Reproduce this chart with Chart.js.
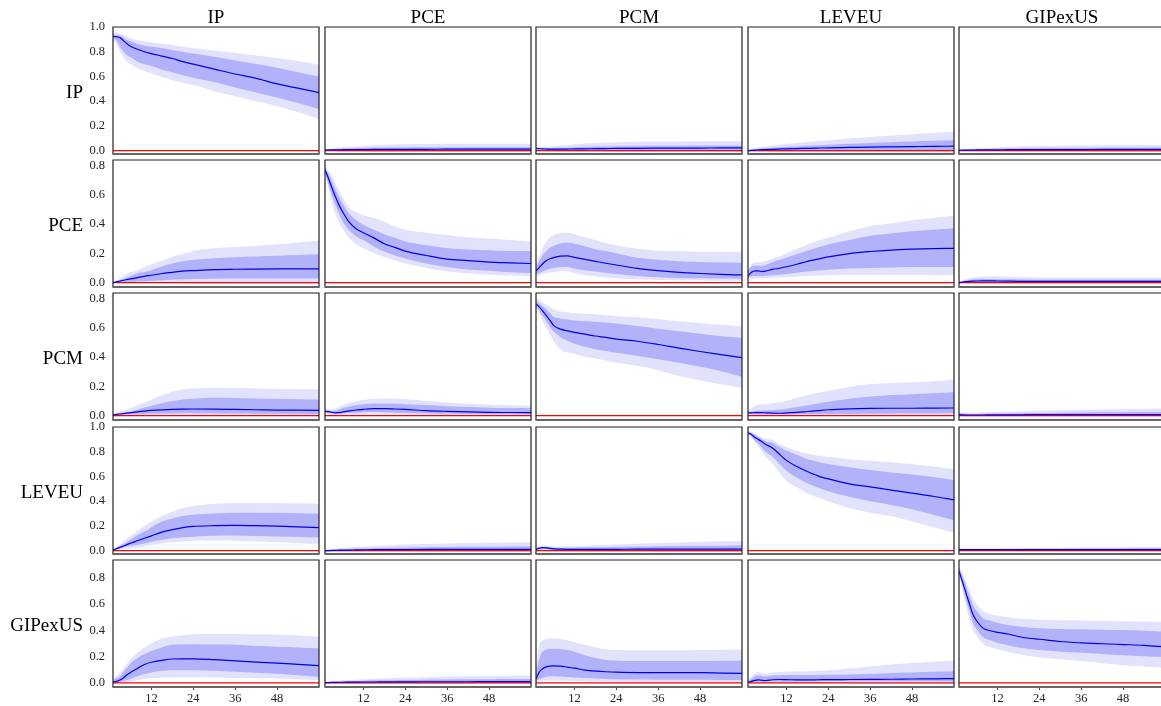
<!DOCTYPE html>
<html>
<head>
<meta charset="utf-8">
<script src="https://cdn.jsdelivr.net/npm/chart.js@4.4.0/dist/chart.umd.min.js"></script>
<style>
  html, body { margin: 0; padding: 0; background: #fff; }
  body { width: 1161px; height: 706px; overflow: hidden; position: relative;
         font-family: "Liberation Serif", "Times New Roman", serif; }
  .lbl { position: absolute; font-size: 19px; line-height: 19px; color: #000; white-space: nowrap; }
</style>
</head>
<body>
<script>
// horizons (months) at which each response is sampled
const HORIZONS = [1, 2, 3, 4, 5, 6, 8, 10, 12, 15, 18, 21, 24, 30, 36, 42, 48, 54, 60];
const X_TICKS = [12, 24, 36, 48];
const Y_TICKS_TALL = [0, 0.2, 0.4, 0.6, 0.8, 1.0];
const Y_TICKS_SHORT = [0, 0.2, 0.4, 0.6, 0.8];
const VARS = ['IP', 'PCE', 'PCM', 'LEVEU', 'GIPexUS'];

// y range per row
const Y_MIN = [-0.027, -0.030, -0.030, -0.027, -0.031];
const Y_MAX = [1.0, 0.836, 0.836, 1.0, 0.935];

// impulse responses: IRF_<row variable>_<column variable>
// med = median, hi68/lo68 = inner band, hi90/lo90 = outer band

// ---- row IP ----
const IRF_IP_IP = {
  med:  [.925, .92, .915, .89, .865, .845, .82, .80, .785, .765, .745, .72, .70, .66, .62, .585, .54, .505, .47],
  hi68: [.935, .935, .93, .915, .895, .885, .865, .85, .84, .83, .815, .80, .785, .76, .73, .70, .67, .635, .60],
  lo68: [.91, .89, .84, .80, .77, .755, .72, .70, .685, .655, .635, .61, .59, .555, .51, .47, .43, .385, .335],
  hi90: [.96, .955, .945, .935, .925, .91, .895, .885, .875, .865, .855, .84, .83, .81, .79, .77, .75, .725, .695],
  lo90: [.89, .86, .80, .755, .72, .70, .665, .645, .625, .595, .57, .55, .53, .48, .44, .40, .36, .31, .255]
};
const IRF_IP_PCE = {
  med:  [.005, .006, .006, .007, .007, .008, .008, .009, .009, .010, .010, .011, .011, .011, .012, .012, .012, .012, .012],
  hi68: [.008, .010, .012, .014, .015, .016, .018, .020, .021, .023, .024, .025, .026, .027, .028, .028, .029, .029, .030],
  lo68: [.002, .002, .001, .001, 0, 0, 0, -.001, -.001, -.001, -.002, -.002, -.002, -.002, -.002, -.002, -.002, -.002, -.002],
  hi90: [.011, .014, .017, .020, .023, .026, .030, .034, .038, .043, .047, .050, .052, .054, .055, .055, .055, .055, .055],
  lo90: [0, -.002, -.004, -.005, -.006, -.007, -.008, -.009, -.010, -.010, -.011, -.011, -.011, -.011, -.011, -.011, -.011, -.011, -.011]
};
const IRF_IP_PCM = {
  med:  [.018, .016, .014, .013, .012, .012, .012, .013, .014, .015, .016, .017, .018, .019, .020, .021, .021, .022, .022],
  hi68: [.022, .022, .021, .021, .021, .022, .024, .026, .028, .031, .033, .035, .036, .038, .039, .040, .041, .041, .042],
  lo68: [.014, .011, .008, .006, .005, .004, .003, .003, .003, .003, .003, .003, .003, .004, .004, .004, .004, .004, .004],
  hi90: [.026, .028, .030, .032, .034, .036, .040, .045, .050, .057, .062, .066, .069, .072, .074, .075, .076, .076, .076],
  lo90: [.010, .006, .002, -.001, -.003, -.004, -.006, -.007, -.008, -.009, -.009, -.010, -.010, -.010, -.010, -.010, -.010, -.010, -.010]
};
const IRF_IP_LEVEU = {
  med:  [0, .002, .004, .006, .008, .009, .011, .013, .015, .017, .019, .021, .023, .026, .029, .031, .033, .035, .036],
  hi68: [.003, .008, .012, .015, .018, .020, .024, .028, .031, .036, .040, .044, .048, .055, .062, .068, .074, .080, .085],
  lo68: [-.003, -.003, -.002, -.002, -.001, -.001, 0, 0, .001, .001, .002, .002, .002, .002, .002, .002, .002, .002, .002],
  hi90: [.006, .014, .020, .025, .029, .033, .040, .047, .053, .062, .070, .078, .085, .098, .110, .122, .133, .143, .152],
  lo90: [-.006, -.008, -.009, -.010, -.011, -.011, -.012, -.012, -.012, -.013, -.013, -.013, -.013, -.014, -.014, -.015, -.015, -.016, -.016]
};
const IRF_IP_GIP = {
  med:  [.003, .004, .004, .005, .005, .006, .006, .007, .007, .008, .008, .008, .009, .009, .009, .010, .010, .010, .010],
  hi68: [.006, .007, .008, .009, .010, .011, .012, .014, .015, .017, .018, .019, .020, .021, .022, .023, .024, .024, .025],
  lo68: [0, 0, 0, 0, 0, 0, 0, -.001, -.001, -.001, -.001, -.001, -.001, -.001, -.001, -.002, -.002, -.002, -.002],
  hi90: [.009, .011, .013, .015, .017, .018, .021, .024, .027, .030, .033, .035, .037, .040, .042, .043, .044, .045, .045],
  lo90: [-.002, -.003, -.004, -.005, -.005, -.006, -.006, -.007, -.007, -.008, -.008, -.009, -.009, -.009, -.010, -.010, -.010, -.010, -.010]
};

// ---- row PCE ----
const IRF_PCE_IP = {
  med:  [0, .005, .011, .016, .021, .025, .034, .043, .050, .062, .070, .078, .082, .089, .091, .092, .093, .094, .094],
  hi68: [0, .008, .017, .025, .034, .045, .063, .072, .085, .110, .130, .145, .155, .166, .173, .178, .183, .188, .193],
  lo68: [0, .001, .002, .003, .004, .005, .007, .010, .012, .016, .019, .022, .024, .027, .028, .028, .028, .028, .028],
  hi90: [0, .014, .030, .045, .060, .070, .085, .105, .125, .150, .177, .195, .215, .234, .243, .252, .262, .274, .285],
  lo90: [0, -.001, -.002, -.003, -.003, -.003, -.003, -.003, -.003, -.004, -.005, -.006, -.007, -.008, -.009, -.010, -.010, -.010, -.010]
};
const IRF_PCE_PCE = {
  med:  [.77, .71, .645, .585, .53, .485, .41, .365, .34, .305, .265, .24, .215, .185, .16, .15, .14, .135, .13],
  hi68: [.785, .74, .69, .635, .585, .54, .47, .425, .395, .36, .33, .305, .28, .255, .235, .225, .22, .215, .215],
  lo68: [.75, .67, .59, .53, .47, .42, .355, .315, .29, .245, .21, .185, .165, .13, .105, .09, .08, .07, .065],
  hi90: [.795, .76, .73, .68, .63, .585, .51, .48, .46, .44, .415, .385, .36, .34, .325, .31, .30, .29, .28],
  lo90: [.74, .64, .545, .47, .41, .37, .30, .26, .235, .20, .175, .15, .13, .10, .075, .063, .053, .048, .045]
};
const IRF_PCE_PCM = {
  med:  [.08, .105, .13, .15, .163, .17, .18, .182, .172, .158, .145, .132, .12, .097, .082, .07, .062, .056, .052],
  hi68: [.10, .15, .19, .215, .24, .25, .268, .272, .265, .248, .228, .215, .20, .17, .155, .145, .14, .137, .136],
  lo68: [.057, .065, .077, .087, .095, .10, .105, .106, .095, .085, .075, .065, .058, .045, .037, .032, .03, .028, .027],
  hi90: [.125, .18, .24, .28, .31, .325, .338, .34, .33, .31, .29, .27, .255, .23, .218, .214, .211, .211, .211],
  lo90: [.045, .05, .058, .063, .069, .073, .078, .078, .063, .052, .042, .035, .03, .022, .018, .016, .014, .012, .011]
};
const IRF_PCE_LEVEU = {
  med:  [.045, .07, .08, .08, .075, .078, .09, .098, .108, .125, .145, .16, .175, .198, .212, .222, .228, .232, .234],
  hi68: [.08, .11, .115, .114, .114, .12, .14, .155, .17, .195, .218, .24, .26, .29, .32, .335, .35, .36, .37],
  lo68: [.034, .042, .045, .045, .045, .047, .05, .053, .058, .067, .075, .082, .088, .097, .10, .103, .106, .107, .107],
  hi90: [.09, .125, .138, .14, .141, .145, .165, .18, .20, .23, .26, .285, .305, .35, .385, .405, .425, .44, .455],
  lo90: [.022, .025, .028, .03, .03, .031, .033, .035, .037, .04, .045, .048, .05, .052, .052, .052, .051, .05, .05]
};
const IRF_PCE_GIP = {
  med:  [0, .004, .007, .009, .010, .011, .012, .012, .011, .010, .009, .009, .008, .008, .008, .008, .008, .008, .008],
  hi68: [.003, .010, .015, .019, .021, .023, .024, .024, .023, .022, .021, .020, .020, .019, .019, .019, .019, .019, .019],
  lo68: [-.002, -.001, 0, .001, .002, .002, .002, .002, .001, 0, 0, -.001, -.001, -.001, -.001, -.001, -.001, -.001, -.001],
  hi90: [.006, .016, .024, .030, .035, .038, .042, .043, .042, .040, .038, .036, .035, .034, .034, .034, .034, .034, .034],
  lo90: [-.004, -.004, -.004, -.004, -.004, -.004, -.004, -.005, -.005, -.006, -.006, -.007, -.007, -.007, -.007, -.007, -.007, -.007, -.007]
};

// ---- row PCM ----
const IRF_PCM_IP = {
  med:  [.005, .008, .011, .014, .017, .020, .026, .031, .035, .039, .042, .044, .045, .044, .042, .040, .038, .037, .036],
  hi68: [.005, .010, .014, .018, .022, .027, .040, .055, .068, .085, .100, .110, .115, .122, .120, .117, .115, .112, .110],
  lo68: [0, .003, .005, .006, .007, .008, .009, .011, .012, .014, .015, .016, .016, .015, .014, .013, .012, .011, .011],
  hi90: [.008, .018, .026, .034, .042, .050, .070, .090, .110, .140, .165, .178, .185, .190, .188, .184, .180, .179, .179],
  lo90: [-.003, -.004, -.004, -.004, -.004, -.004, -.004, -.004, -.004, -.004, -.004, -.004, -.004, -.004, -.005, -.005, -.005, -.005, -.005]
};
const IRF_PCM_PCE = {
  med:  [.030, .027, .022, .019, .020, .024, .032, .038, .043, .047, .047, .045, .042, .034, .029, .025, .022, .021, .020],
  hi68: [.036, .034, .031, .034, .042, .050, .062, .072, .078, .082, .083, .082, .078, .072, .064, .058, .054, .051, .050],
  lo68: [.022, .018, .014, .013, .014, .016, .018, .020, .023, .025, .023, .020, .017, .014, .012, .011, .010, .009, .009],
  hi90: [.043, .042, .040, .046, .058, .070, .086, .098, .108, .115, .117, .117, .113, .100, .090, .080, .074, .070, .068],
  lo90: [.013, .009, .005, .004, .005, .006, .007, .008, .008, .009, .009, .008, .007, .005, .004, .003, .003, .002, .002]
};
const IRF_PCM_PCM = {
  med:  [.76, .74, .71, .68, .65, .615, .59, .578, .567, .555, .543, .533, .522, .507, .485, .46, .437, .416, .395],
  hi68: [.78, .765, .745, .723, .70, .675, .662, .655, .649, .643, .64, .634, .628, .611, .593, .576, .558, .541, .53],
  lo68: [.745, .715, .675, .643, .605, .575, .535, .51, .49, .47, .453, .44, .428, .407, .385, .36, .333, .303, .265],
  hi90: [.80, .79, .77, .757, .74, .725, .71, .705, .70, .695, .69, .685, .68, .671, .659, .643, .632, .62, .61],
  lo90: [.735, .69, .64, .598, .55, .51, .45, .43, .42, .40, .39, .375, .36, .34, .31, .27, .24, .213, .19]
};
const IRF_PCM_LEVEU = {
  med:  [.018, .019, .020, .020, .020, .019, .017, .016, .018, .022, .028, .034, .040, .046, .049, .050, .050, .051, .052],
  hi68: [.025, .028, .031, .034, .035, .036, .039, .042, .047, .058, .070, .083, .095, .115, .130, .140, .146, .152, .159],
  lo68: [.011, .010, .009, .008, .008, .008, .007, .007, .008, .009, .011, .011, .011, .011, .012, .013, .014, .015, .016],
  hi90: [.034, .050, .065, .074, .075, .078, .085, .090, .100, .120, .140, .155, .170, .195, .215, .223, .227, .235, .245],
  lo90: [.006, .005, .004, .003, .002, .002, .001, 0, 0, 0, 0, -.001, -.001, -.001, -.002, -.002, -.002, -.002, -.002]
};
const IRF_PCM_GIP = {
  med:  [.006, .005, .004, .004, .004, .004, .004, .005, .005, .005, .005, .006, .006, .006, .006, .007, .007, .007, .007],
  hi68: [.015, .014, .012, .011, .011, .011, .012, .013, .014, .015, .016, .017, .018, .020, .021, .022, .023, .024, .025],
  lo68: [0, -.001, -.002, -.002, -.002, -.002, -.002, -.002, -.002, -.002, -.002, -.002, -.002, -.002, -.002, -.002, -.002, -.002, -.002],
  hi90: [.025, .022, .020, .019, .019, .020, .022, .024, .026, .028, .030, .032, .034, .037, .040, .042, .044, .046, .048],
  lo90: [-.005, -.006, -.007, -.008, -.008, -.008, -.008, -.008, -.008, -.008, -.008, -.008, -.008, -.008, -.008, -.008, -.008, -.008, -.008]
};

// ---- row LEVEU ----
const IRF_LEVEU_IP = {
  med:  [.005, .016, .027, .038, .049, .060, .080, .100, .120, .150, .170, .187, .196, .202, .204, .202, .198, .193, .187],
  hi68: [.005, .022, .038, .055, .070, .090, .125, .155, .190, .235, .260, .280, .290, .300, .306, .307, .307, .303, .299],
  lo68: [0, .010, .018, .026, .033, .038, .047, .057, .070, .088, .100, .108, .113, .120, .122, .118, .114, .110, .106],
  hi90: [.007, .030, .050, .075, .100, .120, .160, .200, .235, .280, .315, .345, .362, .380, .386, .386, .386, .383, .380],
  lo90: [0, .005, .010, .015, .018, .020, .025, .035, .045, .058, .068, .075, .080, .082, .081, .074, .068, .060, .054]
};
const IRF_LEVEU_PCE = {
  med:  [0, .001, .002, .003, .004, .004, .005, .006, .007, .008, .008, .009, .009, .010, .010, .010, .011, .011, .011],
  hi68: [.002, .004, .006, .008, .010, .011, .013, .015, .017, .020, .022, .024, .026, .028, .030, .031, .032, .034, .035],
  lo68: [-.002, -.002, -.002, -.002, -.002, -.002, -.002, -.002, -.002, -.002, -.002, -.002, -.002, -.002, -.002, -.002, -.002, -.002, -.002],
  hi90: [.004, .008, .012, .015, .018, .021, .025, .029, .033, .038, .042, .046, .049, .054, .058, .061, .064, .066, .068],
  lo90: [-.004, -.005, -.006, -.007, -.008, -.008, -.008, -.009, -.009, -.009, -.009, -.009, -.009, -.009, -.009, -.009, -.009, -.009, -.009]
};
const IRF_LEVEU_PCM = {
  med:  [.012, .020, .024, .022, .018, .015, .012, .011, .011, .011, .011, .011, .011, .012, .012, .012, .012, .012, .012],
  hi68: [.018, .028, .032, .031, .027, .025, .023, .023, .024, .025, .027, .028, .030, .032, .035, .037, .039, .040, .041],
  lo68: [.006, .010, .013, .011, .008, .005, .003, .002, .002, .002, .001, .001, .001, .001, .001, .001, .001, .001, .001],
  hi90: [.024, .036, .040, .039, .036, .034, .034, .035, .037, .040, .043, .047, .050, .056, .062, .067, .072, .076, .079],
  lo90: [0, .002, .004, .002, -.001, -.003, -.005, -.006, -.007, -.008, -.008, -.009, -.009, -.009, -.010, -.010, -.010, -.010, -.010]
};
const IRF_LEVEU_LEVEU = {
  med:  [.952, .94, .915, .90, .88, .86, .83, .78, .73, .68, .64, .605, .58, .54, .516, .49, .465, .44, .41],
  hi68: [.96, .952, .935, .92, .90, .885, .873, .84, .81, .775, .74, .72, .70, .674, .652, .633, .615, .595, .571],
  lo68: [.945, .925, .89, .865, .83, .80, .76, .70, .647, .59, .545, .51, .48, .435, .40, .37, .335, .29, .245],
  hi90: [.967, .96, .945, .93, .915, .905, .895, .865, .837, .81, .785, .77, .76, .74, .728, .715, .698, .68, .66],
  lo90: [.94, .915, .87, .84, .80, .76, .705, .63, .565, .51, .465, .43, .40, .345, .307, .28, .235, .19, .144]
};
const IRF_LEVEU_GIP = {
  med:  [.008, .008, .008, .008, .008, .008, .008, .008, .008, .008, .008, .008, .008, .008, .008, .008, .008, .008, .008],
  hi68: [.012, .012, .012, .012, .012, .012, .013, .013, .013, .014, .014, .015, .015, .016, .017, .018, .018, .019, .020],
  lo68: [.005, .005, .004, .004, .004, .004, .004, .004, .003, .003, .003, .003, .003, .002, .002, .002, .001, .001, .001],
  hi90: [.019, .018, .017, .017, .017, .017, .017, .018, .018, .019, .020, .021, .022, .023, .025, .026, .027, .029, .030],
  lo90: [.002, .001, 0, 0, 0, -.001, -.001, -.001, -.001, -.002, -.002, -.002, -.002, -.003, -.003, -.003, -.003, -.004, -.004]
};

// ---- row GIPexUS ----
const IRF_GIP_IP = {
  med:  [.008, .012, .022, .040, .062, .080, .110, .140, .157, .172, .182, .183, .183, .177, .168, .158, .151, .141, .131],
  hi68: [.020, .035, .052, .085, .115, .150, .190, .220, .243, .270, .290, .293, .295, .292, .290, .280, .275, .270, .264],
  lo68: [0, .002, .008, .015, .022, .030, .050, .068, .080, .092, .097, .097, .097, .092, .085, .077, .070, .058, .046],
  hi90: [.033, .055, .077, .110, .145, .180, .230, .270, .300, .337, .354, .362, .370, .372, .372, .368, .366, .360, .354],
  lo90: [-.005, -.003, 0, .004, .007, .010, .020, .030, .035, .040, .042, .043, .044, .042, .038, .035, .033, .028, .020]
};
const IRF_GIP_PCE = {
  med:  [.002, .003, .004, .004, .005, .005, .006, .006, .007, .007, .008, .008, .008, .009, .009, .009, .010, .010, .010],
  hi68: [.004, .006, .008, .009, .010, .011, .013, .014, .016, .018, .019, .021, .022, .024, .026, .027, .028, .029, .030],
  lo68: [0, 0, 0, -.001, -.001, -.001, -.001, -.001, -.001, -.001, -.001, -.001, -.001, -.001, -.001, -.001, -.001, -.001, -.001],
  hi90: [.006, .010, .013, .015, .017, .019, .022, .025, .028, .032, .035, .038, .040, .044, .048, .051, .053, .055, .056],
  lo90: [-.002, -.003, -.004, -.005, -.006, -.006, -.007, -.007, -.008, -.008, -.008, -.008, -.008, -.008, -.008, -.008, -.008, -.008, -.008]
};
const IRF_GIP_PCM = {
  med:  [.033, .085, .110, .122, .128, .130, .128, .120, .112, .098, .090, .085, .082, .079, .079, .079, .078, .075, .072],
  hi68: [.077, .190, .240, .255, .258, .260, .258, .250, .238, .210, .190, .175, .170, .166, .166, .166, .167, .169, .171],
  lo68: [.013, .030, .040, .047, .051, .050, .048, .045, .042, .037, .033, .030, .028, .026, .025, .024, .024, .023, .023],
  hi90: [.115, .294, .325, .335, .340, .340, .335, .325, .310, .290, .270, .255, .250, .248, .248, .248, .250, .252, .255],
  lo90: [.003, .012, .016, .018, .018, .018, .018, .017, .015, .012, .010, .008, .007, .006, .005, .005, .005, .005, .005]
};
const IRF_GIP_LEVEU = {
  med:  [.005, .012, .020, .023, .020, .018, .024, .026, .025, .023, .023, .024, .025, .026, .027, .028, .030, .031, .033],
  hi68: [.012, .030, .050, .058, .052, .050, .057, .059, .060, .060, .060, .061, .062, .064, .068, .075, .080, .085, .089],
  lo68: [-.002, .003, .008, .010, .010, .010, .011, .011, .011, .011, .011, .011, .012, .012, .012, .012, .013, .013, .013],
  hi90: [.026, .050, .075, .084, .075, .070, .080, .084, .085, .086, .088, .092, .096, .110, .125, .140, .152, .162, .171],
  lo90: [-.005, -.004, -.003, -.002, -.002, -.002, -.002, -.002, -.002, -.002, -.002, -.002, -.002, -.002, -.002, -.002, -.002, -.002, -.002]
};
const IRF_GIP_GIP = {
  med:  [.85, .77, .685, .60, .52, .475, .415, .397, .385, .372, .353, .34, .332, .315, .305, .298, .292, .286, .274],
  hi68: [.876, .81, .736, .665, .59, .55, .49, .473, .457, .441, .43, .422, .416, .411, .408, .405, .402, .396, .39],
  lo68: [.838, .74, .633, .545, .455, .41, .345, .324, .305, .287, .27, .258, .25, .238, .229, .22, .21, .203, .197],
  hi90: [.889, .835, .774, .71, .64, .60, .545, .523, .511, .50, .49, .484, .48, .477, .475, .473, .47, .468, .466],
  lo90: [.825, .70, .582, .49, .40, .36, .295, .272, .255, .237, .22, .205, .194, .18, .166, .15, .135, .125, .115]
};

const GRID = [
  [IRF_IP_IP, IRF_IP_PCE, IRF_IP_PCM, IRF_IP_LEVEU, IRF_IP_GIP],
  [IRF_PCE_IP, IRF_PCE_PCE, IRF_PCE_PCM, IRF_PCE_LEVEU, IRF_PCE_GIP],
  [IRF_PCM_IP, IRF_PCM_PCE, IRF_PCM_PCM, IRF_PCM_LEVEU, IRF_PCM_GIP],
  [IRF_LEVEU_IP, IRF_LEVEU_PCE, IRF_LEVEU_PCM, IRF_LEVEU_LEVEU, IRF_LEVEU_GIP],
  [IRF_GIP_IP, IRF_GIP_PCE, IRF_GIP_PCM, IRF_GIP_LEVEU, IRF_GIP_GIP]
];

// layout of the panel grid (plot-area boxes, px)
const COL_LEFT = [113, 325, 536, 748, 959];
const ROW_TOP = [27, 160, 293, 427, 560];
const PW = 206, PH = 127;
const M = 8;      // canvas margin around each plot area
const YW = 40;    // y-axis strip on the first column
const XH = 20;    // x-axis strip on the last row

const OUTER = 'rgb(226,226,252)';
const INNER = 'rgb(178,178,250)';

// box around each plot area, heavier along the bottom
const frame = {
  id: 'frame',
  afterDatasetsDraw(chart) {
    const { ctx, chartArea: a } = chart;
    ctx.save();
    ctx.strokeStyle = '#222';
    ctx.lineWidth = 1.2;
    ctx.beginPath();
    ctx.moveTo(a.left, a.bottom);
    ctx.lineTo(a.left, a.top);
    ctx.lineTo(a.right, a.top);
    ctx.lineTo(a.right, a.bottom);
    ctx.stroke();
    ctx.strokeStyle = '#666';
    ctx.lineWidth = 2;
    ctx.beginPath();
    ctx.moveTo(a.left - 0.6, a.bottom);
    ctx.lineTo(a.right + 0.6, a.bottom);
    ctx.stroke();
    ctx.restore();
  }
};

function label(text, left, top, width, align) {
  const d = document.createElement('div');
  d.className = 'lbl';
  d.textContent = text;
  d.style.left = left + 'px';
  d.style.top = top + 'px';
  d.style.width = width + 'px';
  d.style.textAlign = align;
  document.body.appendChild(d);
}

function makePanel(r, c) {
  const irf = GRID[r][c];
  const showY = c === 0;
  const showX = r === GRID.length - 1;
  const w = PW + 2 * M + (showY ? YW : 0);
  const h = PH + 2 * M + (showX ? XH : 0);
  const cv = document.createElement('canvas');
  cv.width = w;
  cv.height = h;
  cv.style.cssText = `position:absolute;left:${COL_LEFT[c] - M - (showY ? YW : 0)}px;top:${ROW_TOP[r] - M}px;width:${w}px;height:${h}px`;
  document.body.appendChild(cv);

  const pts = arr => HORIZONS.map((x, i) => ({ x, y: arr[i] }));
  const yTicks = Y_MAX[r] >= 1 ? Y_TICKS_TALL : Y_TICKS_SHORT;

  new Chart(cv, {
    type: 'line',
    data: {
      datasets: [
        { data: pts(irf.med), borderColor: '#0000ee', borderWidth: 1.2, fill: false },
        { data: [{ x: 1, y: 0 }, { x: 60, y: 0 }], borderColor: '#ff0000', borderWidth: 1.2, fill: false },
        { data: pts(irf.hi68), borderWidth: 0, backgroundColor: INNER, fill: '+1' },
        { data: pts(irf.lo68), borderWidth: 0, fill: false },
        { data: pts(irf.hi90), borderWidth: 0, backgroundColor: OUTER, fill: '+1' },
        { data: pts(irf.lo90), borderWidth: 0, fill: false }
      ]
    },
    options: {
      responsive: false,
      animation: false,
      devicePixelRatio: 1,
      layout: { padding: M },
      elements: {
        point: { radius: 0 },
        line: { cubicInterpolationMode: 'monotone' }
      },
      plugins: { legend: { display: false }, tooltip: { enabled: false } },
      scales: {
        x: {
          type: 'linear', min: 1, max: 60,
          display: showX,
          afterBuildTicks: s => { s.ticks = X_TICKS.map(v => ({ value: v })); },
          afterFit: s => {
            if (!showX) return;
            s.height = XH;
            s.paddingLeft = 0;
            s.paddingRight = 0;
          },
          grid: { drawOnChartArea: false, drawTicks: true, tickLength: 3, color: '#444' },
          border: { display: false },
          ticks: {
            padding: 1, color: '#222', maxRotation: 0,
            font: { family: '"Liberation Serif", serif', size: 12.5 }
          }
        },
        y: {
          type: 'linear', min: Y_MIN[r], max: Y_MAX[r],
          display: showY,
          afterBuildTicks: s => { s.ticks = yTicks.map(v => ({ value: v })); },
          afterFit: s => {
            if (!showY) return;
            s.width = YW;
            // the canvas margin already leaves room for the end labels
            s.paddingTop = 0;
            s.paddingBottom = 0;
          },
          grid: { display: false, drawTicks: false },
          border: { display: false },
          ticks: {
            padding: 8, color: '#222',
            font: { family: '"Liberation Serif", serif', size: 12.5 },
            callback: v => v.toFixed(1)
          }
        }
      }
    },
    plugins: [frame]
  });
}

for (let r = 0; r < GRID.length; r++) {
  for (let c = 0; c < GRID[r].length; c++) makePanel(r, c);
}

VARS.forEach((v, i) => {
  label(v, COL_LEFT[i], 7, PW, 'center');
  label(v, 0, ROW_TOP[i] + PH / 2 - 9, 83, 'right');
});
</script>
</body>
</html>
